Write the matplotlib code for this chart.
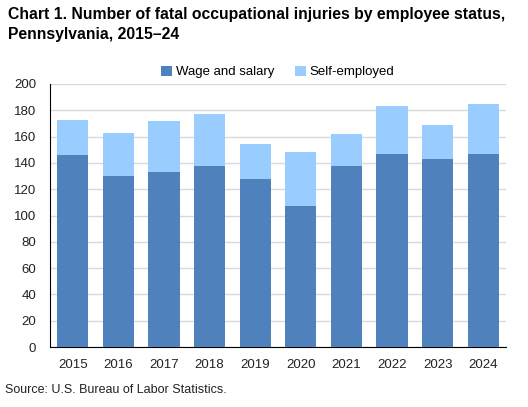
import numpy as np
import matplotlib.pyplot as plt

plt.rcParams['font.family'] = ['Liberation Sans', 'DejaVu Sans']

years = ['2015', '2016', '2017', '2018', '2019', '2020', '2021', '2022', '2023', '2024']
wage = [146, 130, 133, 138, 128, 107, 138, 147, 143, 147]
self_emp = [27, 33, 39, 39, 26, 41, 24, 36, 26, 38]

fig = plt.figure(figsize=(5.28, 4.07), dpi=100)
ax = fig.add_axes([50/528, 1 - 347/407, 456/528, 263/407])

x = np.arange(len(years))
ax.bar(x, wage, width=0.68, color='#4F81BD', label='Wage and salary', zorder=3)
ax.bar(x, self_emp, width=0.68, bottom=wage, color='#99CCFF', label='Self-employed', zorder=3)

ax.set_xlim(-0.5, len(years) - 0.5)
ax.set_ylim(0, 200)
ax.set_yticks(range(0, 201, 20))
ax.set_xticks(x)
ax.set_xticklabels(years)
ax.yaxis.grid(True, color='#D9D9D9', linewidth=1, zorder=0)
ax.tick_params(axis='both', length=0, labelsize=9.5, colors='#222222')
ax.tick_params(axis='x', pad=9)
ax.tick_params(axis='y', pad=10)
for s in ['top', 'right']:
    ax.spines[s].set_visible(False)
ax.spines['left'].set_color('black')
ax.spines['bottom'].set_color('black')

ax.legend(loc='center', bbox_to_anchor=(0.5, 1.046), ncol=2, frameon=False,
          fontsize=9.5, handlelength=0.8, handleheight=0.8, handletextpad=0.3,
          columnspacing=1.6)

fig.text(8/528, 1 - 14/407, 'Chart 1. Number of fatal occupational injuries by employee status,',
         fontsize=11.3, fontweight='bold', va='center')
fig.text(8/528, 1 - 35/407, 'Pennsylvania, 2015\u201324',
         fontsize=11.3, fontweight='bold', va='center')
fig.text(5/528, 1 - 390/407, 'Source: U.S. Bureau of Labor Statistics.', fontsize=9,
         va='center', color='#222222')

fig.savefig('out.png', dpi=100)
